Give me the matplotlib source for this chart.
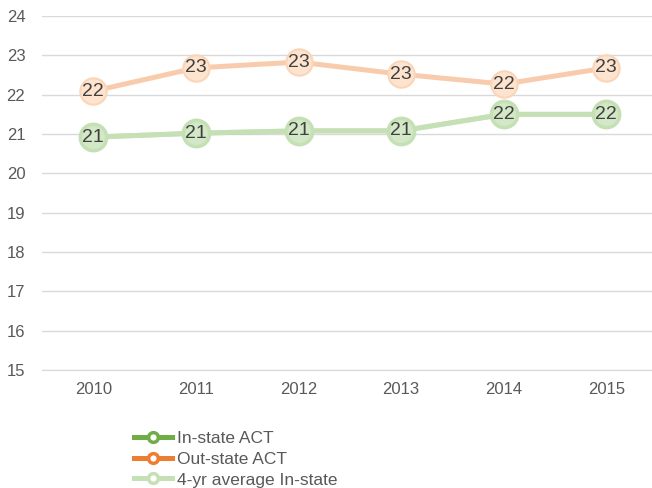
import matplotlib.pyplot as plt
from matplotlib.lines import Line2D

years = ['2010', '2011', '2012', '2013', '2014', '2015']
in_state = [20.92, 21.02, 21.08, 21.08, 21.5, 21.5]
out_state = [22.09, 22.68, 22.83, 22.52, 22.27, 22.68]
avg_in_state = [20.92, 21.02, 21.08, 21.08, 21.5, 21.5]
y_ticks = [15, 16, 17, 18, 19, 20, 21, 22, 23, 24]

plt.rcParams['font.family'] = ['Liberation Sans', 'DejaVu Sans']

fig = plt.figure(figsize=(6.52, 4.88), dpi=100)
ax = fig.add_axes([42 / 652, 118 / 488, 610 / 652, 354 / 488])

x = list(range(len(years)))

# faded series as they appear in the picture
ax.plot(x, in_state, color='#70ad47', alpha=0.3, lw=3.6, zorder=2)
ax.plot(x, out_state, color='#f8cbad', lw=3.6, zorder=2,
        marker='o', ms=19, mfc='#fee4cf', mec='#fbd5b8', mew=1.5)
ax.plot(x, avg_in_state, color='#c5e0b4', lw=3.6, zorder=3,
        marker='o', ms=19, mfc='#d3e8c6', mec='#c5e0b4', mew=2.5)

for series in (out_state, avg_in_state):
    for i, v in enumerate(series):
        ax.text(i, v, str(int(v + 0.5)), ha='center', va='center',
                fontsize=14, color='#404040', zorder=5)

ax.set_xlim(-0.5, 5.445)
ax.set_ylim(15, 24)
ax.set_yticks(y_ticks)
ax.set_xticks(x)
ax.set_xticklabels(years)
ax.grid(axis='y', color='#d9d9d9', lw=1)
ax.set_axisbelow(True)
for s in ['top', 'right', 'left']:
    ax.spines[s].set_visible(False)
ax.spines['bottom'].set_color('#d9d9d9')
ax.tick_params(length=0, labelsize=12, colors='#595959')
ax.tick_params(axis='x', pad=9)
ax.tick_params(axis='y', pad=12)

handles = [
    Line2D([], [], color='#70ad47', lw=3.6, marker='o', ms=7, mfc='white', mec='#70ad47', mew=2.5),
    Line2D([], [], color='#ed7d31', lw=3.6, marker='o', ms=7, mfc='white', mec='#ed7d31', mew=2.5),
    Line2D([], [], color='#c5e0b4', lw=3.6, marker='o', ms=7, mfc='white', mec='#c5e0b4', mew=2.5),
]
labels = ['In-state ACT', 'Out-state ACT', '4-yr average In-state']
fig.legend(handles, labels, loc='upper left', bbox_to_anchor=(127 / 652, 1 - 424 / 488),
           frameon=False, fontsize=12.5, handlelength=2.2, handletextpad=0.3,
           labelspacing=0.32, labelcolor='#595959', borderaxespad=0)

fig.savefig('out.png', dpi=100)
